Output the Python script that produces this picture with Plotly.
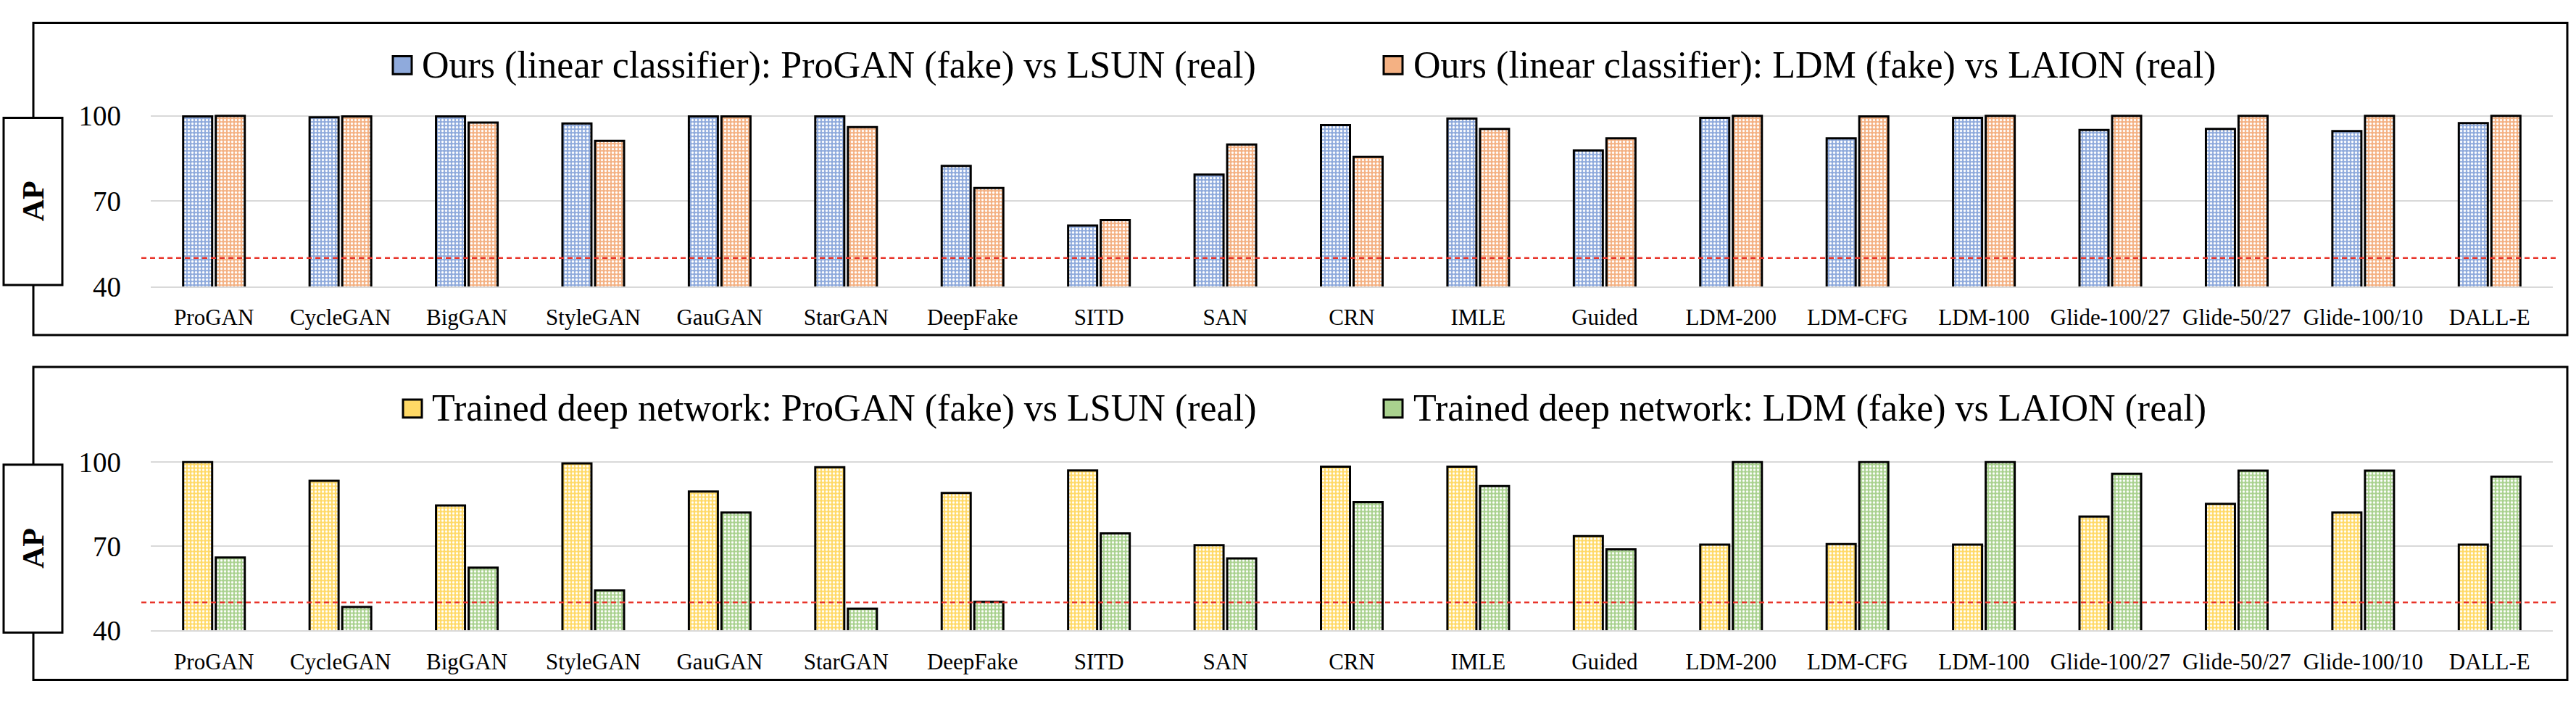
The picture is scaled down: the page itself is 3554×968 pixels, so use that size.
import plotly.graph_objects as go

W, H = 3554, 968

categories = ["ProGAN", "CycleGAN", "BigGAN", "StyleGAN", "GauGAN", "StarGAN", "DeepFake",
              "SITD", "SAN", "CRN", "IMLE", "Guided", "LDM-200", "LDM-CFG", "LDM-100",
              "Glide-100/27", "Glide-50/27", "Glide-100/10", "DALL-E"]

linear_progan = [99.8, 99.5, 99.8, 97.3, 99.8, 99.8, 82.4, 61.4, 79.3, 96.7, 99.0, 87.8,
                 99.3, 92.1, 99.3, 95.0, 95.4, 94.6, 97.4]
linear_ldm = [100.0, 99.8, 97.6, 91.2, 99.8, 96.0, 74.6, 63.3, 89.9, 85.6, 95.4, 92.1,
              100.0, 99.8, 100.0, 100.0, 100.0, 100.0, 100.0]
deep_progan = [100.0, 93.3, 84.5, 99.5, 89.5, 98.1, 89.0, 97.0, 70.4, 98.3, 98.3, 73.6,
               70.6, 70.8, 70.6, 80.6, 85.1, 82.0, 70.6]
deep_ldm = [66.0, 48.4, 62.4, 54.3, 82.0, 47.8, 50.2, 74.6, 65.7, 85.7, 91.4, 68.9,
            100.0, 100.0, 100.0, 95.8, 96.9, 96.9, 94.8]

names_top = ["Ours (linear classifier): ProGAN (fake) vs LSUN (real)",
             "Ours (linear classifier): LDM (fake) vs LAION (real)"]
names_bot = ["Trained deep network: ProGAN (fake) vs LSUN (real)",
             "Trained deep network: LDM (fake) vs LAION (real)"]
y_ticks = [40, 70, 100]
chance = 50
y_label = "AP"

colors = {"blue": "#8FAADC", "orange": "#F4B183", "yellow": "#FFD966", "green": "#A9D18E"}

FONT = "Liberation Serif, Times New Roman, serif"


def px(x):
    return x / W


def py(y):
    return 1 - y / H


fig = go.Figure()


def bar(name, vals, color, xa, ya):
    return go.Bar(
        x=categories, y=vals, name=name, xaxis=xa, yaxis=ya, showlegend=False,
        marker=dict(color=color, line=dict(color="black", width=3),
                    pattern=dict(shape=".", fgcolor="white", bgcolor=color,
                                 size=5, solidity=0.35, fillmode="replace")),
    )


fig.add_trace(bar(names_top[0], linear_progan, colors["blue"], "x", "y"))
fig.add_trace(bar(names_top[1], linear_ldm, colors["orange"], "x", "y"))
fig.add_trace(bar(names_bot[0], deep_progan, colors["yellow"], "x2", "y2"))
fig.add_trace(bar(names_bot[1], deep_ldm, colors["green"], "x2", "y2"))

ytop = 100.4
x_dom = [px(208), px(3522)]
# top panel: 40 at y=392, 100 at y=146
t40, t100 = 392, 146
t_top = t100 - (ytop - 100) * (t40 - t100) / 60
b40, b100 = 888, 645
b_top = b100 - (ytop - 100) * (b40 - b100) / 60

xa_common = dict(domain=x_dom, showgrid=False, tickangle=0, ticks="",
                 tickfont=dict(family=FONT, size=31, color="black"),
                 ticklabelstandoff=14, showline=True, linecolor="#D9D9D9", linewidth=2,
                 zeroline=False, fixedrange=True)
ya_common = dict(range=[40, ytop], tickvals=y_ticks, showgrid=True, gridcolor="#D9D9D9",
                 gridwidth=2, zeroline=False, showline=False, ticks="",
                 tickfont=dict(family=FONT, size=39, color="black"),
                 ticklabelstandoff=40, fixedrange=True)

fig.update_layout(
    width=W, height=H, margin=dict(l=0, r=0, t=0, b=0),
    paper_bgcolor="white", plot_bgcolor="white",
    barmode="group", bargap=0.484, bargroupgap=0.111,
    showlegend=False,
    xaxis=dict(anchor="y", **xa_common),
    yaxis=dict(anchor="x", domain=[py(t40), py(t_top)], **ya_common),
    xaxis2=dict(anchor="y2", **xa_common),
    yaxis2=dict(anchor="x2", domain=[py(b40), py(b_top)], **ya_common),
    font=dict(family=FONT, color="black"),
)

shapes = []
annotations = []

# panel frames
for (y0, y1) in [(12, 462), (508, 959)]:
    shapes.append(dict(type="rect", xref="paper", yref="paper", x0=px(46), x1=px(3542),
                       y0=py(y1), y1=py(y0), line=dict(color="black", width=3),
                       fillcolor="rgba(0,0,0,0)", layer="below"))

# chance lines
for yref in ["y", "y2"]:
    shapes.append(dict(type="line", xref="paper", yref=yref, x0=px(195), x1=px(3528),
                       y0=chance, y1=chance, line=dict(color="#E8352B", width=2.5, dash="7px,5px"),
                       layer="above"))

# AP boxes
for (y0, y1) in [(149, 390), (649, 891)]:
    shapes.append(dict(type="rect", xref="paper", yref="paper", x0=px(5), x1=px(86),
                       y0=py(y1), y1=py(y0), line=dict(color="black", width=3),
                       fillcolor="white", layer="above"))
    annotations.append(dict(text="<b>" + y_label + "</b>", xref="paper", yref="paper",
                            x=px(45.5), y=py((y0 + y1) / 2), textangle=-90, showarrow=False,
                            xanchor="center", yanchor="middle",
                            font=dict(family=FONT, size=42, color="black")))

# legends (manual, to match large square symbols)
legend_items = [
    (names_top[0], colors["blue"], 542, 580, 73),
    (names_top[1], colors["orange"], 1909, 1948, 73),
    (names_bot[0], colors["yellow"], 556, 594, 568),
    (names_bot[1], colors["green"], 1909, 1948, 568),
]
for name, color, mx, tx, cy in legend_items:
    s = 26
    shapes.append(dict(type="rect", xref="paper", yref="paper", x0=px(mx), x1=px(mx + s),
                       y0=py(cy + s / 2), y1=py(cy - s / 2), line=dict(color="black", width=3),
                       fillcolor=color, layer="above"))
    annotations.append(dict(text=name, xref="paper", yref="paper", x=px(tx), y=py(cy),
                            xanchor="left", yanchor="middle", showarrow=False,
                            font=dict(family=FONT, size=52, color="black")))

fig.update_layout(shapes=shapes, annotations=annotations)

fig.write_html("out.html", config={"displayModeBar": False},
               post_script="document.body.style.margin='0';")
